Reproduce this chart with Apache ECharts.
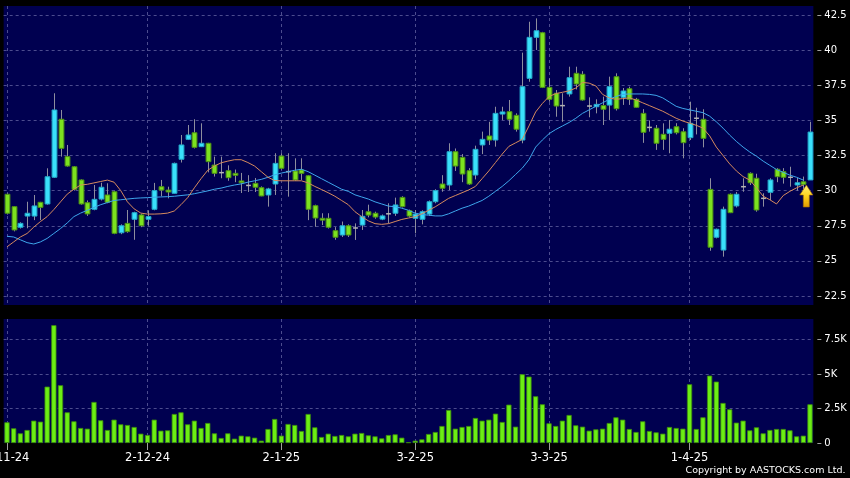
<!DOCTYPE html>
<html><head><meta charset="utf-8">
<script src="https://cdn.jsdelivr.net/npm/echarts@6/dist/echarts.min.js"></script>
<style>html,body{margin:0;padding:0;background:#000;}#c{width:850px;height:478px;}</style>
</head><body><div id="c"></div>
<script>
// ---- data ----
const opens  = [29.74,28.86,27.39,28.19,28.19,29.17,29.05,30.95,35.08,32.42,
  31.70,30.76,29.14,28.67,29.40,29.69,29.92,27.00,27.67,27.96,
  28.27,27.96,28.67,30.28,30.04,29.81,32.23,33.65,34.12,33.13,
  33.37,31.82,31.28,31.42,31.23,30.69,30.37,30.52,30.21,29.69,
  30.47,32.46,31.35,31.40,31.47,31.06,28.93,28.03,28.03,27.15,
  26.84,27.50,27.34,27.55,28.50,28.39,27.97,28.35,28.39,29.52,
  28.57,28.03,27.96,28.33,29.21,30.47,30.40,32.77,32.37,31.42,
  31.11,33.25,33.89,33.60,35.45,35.62,35.36,33.60,37.99,40.91,
  41.24,37.35,36.93,36.05,36.88,38.35,38.28,36.02,35.97,36.05,
  36.09,38.11,36.64,37.25,36.50,35.50,34.50,34.44,34.01,34.08,
  34.55,34.19,33.77,35.15,35.08,30.09,26.68,25.77,29.74,28.91,
  30.28,31.23,30.88,29.45,29.88,31.52,31.35,30.95,30.40,30.63,
  30.76];
const closes = [28.39,27.20,27.67,28.39,28.91,28.81,30.99,35.74,33.01,31.75,
  30.09,29.05,28.34,29.38,30.24,29.17,26.96,27.50,27.08,28.43,
  27.50,28.15,30.00,30.04,29.90,31.94,33.25,33.96,33.08,33.37,
  32.06,31.23,31.28,30.92,31.09,30.56,30.37,30.24,29.62,30.12,
  31.94,31.59,31.35,30.76,31.23,28.67,28.05,27.90,27.39,26.68,
  27.50,26.84,27.34,28.17,28.26,28.12,28.20,28.35,28.98,28.86,
  28.19,28.33,28.50,29.21,30.00,30.17,32.77,31.75,31.18,30.47,
  32.94,33.65,33.60,35.50,35.60,35.08,34.37,37.40,40.91,41.38,
  37.35,36.50,36.02,36.05,38.04,37.59,36.45,36.02,36.14,35.79,
  37.40,35.83,37.09,36.50,35.93,34.15,34.50,33.37,33.65,34.37,
  34.12,33.41,34.79,35.15,33.72,25.97,27.25,28.67,28.43,29.74,
  30.28,30.56,28.62,29.45,30.76,30.99,30.95,30.95,30.56,30.45,
  34.17];
const lows   = [28.30,27.10,27.30,27.32,27.90,27.90,29.00,30.90,32.42,31.70,
  30.00,29.00,28.20,28.60,29.30,29.10,26.90,26.90,27.00,26.50,
  27.40,27.50,28.60,29.60,29.45,29.80,32.00,33.60,33.00,33.10,
  31.30,31.00,30.88,30.70,30.60,29.83,29.90,29.90,29.60,28.86,
  29.69,31.50,29.57,30.70,30.76,27.90,27.43,27.55,27.30,26.50,
  26.70,26.70,26.49,27.20,28.10,28.00,27.90,27.67,28.20,28.80,
  28.10,26.96,27.60,28.20,29.10,29.92,30.04,31.40,30.60,30.40,
  30.80,32.60,33.25,33.13,35.03,34.67,34.20,33.37,37.75,40.01,
  37.30,36.33,35.26,34.90,36.69,37.20,36.40,35.22,35.50,34.67,
  35.03,35.70,36.10,36.10,35.90,33.40,34.20,32.90,32.90,32.66,
  34.00,32.30,33.60,34.00,33.08,25.72,26.60,25.30,28.40,28.80,
  29.92,30.40,28.50,28.86,29.33,30.60,30.50,30.28,30.00,30.10,
  30.76];
const highs  = [29.80,28.90,27.75,29.21,29.69,29.20,31.59,36.93,35.74,33.25,
  31.75,30.80,29.30,30.40,30.56,30.52,30.00,27.60,28.62,28.50,
  28.35,28.60,30.55,30.76,30.28,32.00,33.96,34.67,35.08,34.79,
  33.40,32.42,32.42,31.80,31.50,31.26,31.10,30.90,30.30,30.20,
  32.66,32.66,32.66,32.30,32.30,31.10,29.00,28.39,28.39,27.40,
  27.80,27.60,27.67,28.62,29.00,28.50,28.30,29.10,29.50,29.60,
  28.65,28.62,28.60,29.30,30.10,31.10,33.37,33.00,32.60,31.60,
  33.20,34.20,34.90,35.97,35.97,36.45,35.50,39.82,42.02,42.26,
  41.30,37.99,37.16,36.93,38.82,38.82,38.50,36.64,36.50,36.69,
  38.11,38.35,37.30,37.40,36.60,35.80,35.00,34.67,34.79,35.03,
  34.80,34.44,36.33,35.90,35.79,30.88,27.30,28.86,29.80,29.90,
  30.88,31.30,31.20,29.81,30.88,31.60,31.60,31.70,30.90,31.00,
  34.90];
const volumes = [1504,1066,703,945,1623,1550,4093,8551,4191,2228,
  1575,1090,1041,2980,1648,945,1695,1357,1308,1163,
  678,581,1695,896,920,2107,2228,1357,1623,1090,
  1453,703,363,703,315,533,484,388,170,1017,
  1744,533,1381,1308,872,2107,1139,436,678,509,
  581,484,678,727,557,484,339,581,630,388,
  50,170,266,654,799,1235,2398,1041,1163,1235,
  1817,1623,1695,2131,1526,2785,1187,4990,4820,3392,
  2810,1430,1235,1623,2035,1284,1187,896,993,1041,
  1453,1865,1695,1017,799,1575,872,775,678,1163,
  1090,1041,4264,1017,1865,4893,4457,2907,2447,1478,
  1623,920,1139,703,945,1017,1017,920,484,533,
  2810];
const ma10 = [26.0,26.35,26.7,26.95,27.4,27.8,28.15,28.65,29.2,29.75,
  30.1,30.4,30.45,30.55,30.65,30.75,30.6,30.0,29.2,28.7,
  28.4,28.33,28.33,28.35,28.4,28.55,29.0,29.5,30.2,30.85,
  31.45,31.75,31.98,32.1,32.2,32.2,32.0,31.75,31.35,30.95,
  30.72,30.7,30.7,30.7,30.7,30.55,30.3,30.08,29.85,29.6,
  29.3,29.0,28.5,28.15,27.85,27.65,27.6,27.65,27.8,27.95,
  28.05,28.15,28.35,28.6,28.85,29.15,29.45,29.65,29.85,30.05,
  30.3,30.85,31.4,32.0,32.6,33.15,33.4,33.65,34.6,35.6,
  36.2,36.7,36.9,37.0,37.1,37.3,37.7,37.65,37.45,36.85,
  36.6,36.5,36.55,36.6,36.45,36.25,36.05,35.85,35.65,35.4,
  35.15,34.95,34.8,34.65,34.45,33.9,33.1,32.5,31.9,31.4,
  31.0,30.75,30.2,29.6,29.35,29.05,29.65,29.95,30.2,30.4,
  null];
const ma20 = [26.75,26.7,26.5,26.3,26.2,26.35,26.6,26.95,27.3,27.7,
  28.15,28.4,28.6,28.8,29.0,29.15,29.3,29.35,29.4,29.45,
  29.48,29.5,29.53,29.55,29.57,29.6,29.65,29.7,29.78,29.88,
  29.98,30.1,30.18,30.3,30.4,30.48,30.6,30.7,30.8,30.95,
  31.12,31.25,31.35,31.45,31.52,31.35,31.1,30.85,30.6,30.35,
  30.1,29.95,29.7,29.55,29.4,29.2,29.05,28.9,28.85,28.75,
  28.6,28.4,28.3,28.25,28.2,28.2,28.35,28.55,28.75,28.9,
  29.1,29.3,29.6,29.95,30.3,30.7,31.15,31.6,32.2,33.1,
  33.6,34.05,34.35,34.6,34.85,35.15,35.5,35.75,36.0,36.25,
  36.5,36.7,36.85,36.88,36.88,36.88,36.85,36.78,36.6,36.3,
  36.0,35.85,35.75,35.65,35.55,35.3,34.9,34.45,33.95,33.5,
  33.1,32.75,32.45,32.1,31.8,31.5,31.3,31.1,30.95,30.75,
  null];
const tickIndex  = [0, 21, 41, 61, 81, 102];
const tickLabels = ['1-11-24', '2-12-24', '2-1-25', '3-2-25', '3-3-25', '1-4-25'];
const volTicks = [0, 2500, 5000, 7500];
const categories = closes.map((_, i) => String(i));
const arrowAt = 119;

// ---- chart ----
const GRID = '#4c4c8e';
const NAVY = '#000050';
const candleData = categories.map((c, i) => [i, opens[i], closes[i], lows[i], highs[i]]);
const isTick = (idx) => tickIndex.indexOf(idx) >= 0;

function renderCandle(params, api) {
  const i = api.value(0), o = api.value(1), c = api.value(2), l = api.value(3), h = api.value(4);
  const pTop = api.coord([i, Math.max(o, c)]);
  const pBot = api.coord([i, Math.min(o, c)]);
  const pHi = api.coord([i, h]);
  const pLo = api.coord([i, l]);
  const band = api.size([1, 0])[0];
  const w = Math.max(3, band * 0.72);
  const x = Math.round(pTop[0]) + 0.5;
  const children = [{
    type: 'line', shape: {x1: x, y1: pHi[1], x2: x, y2: pLo[1]},
    style: {stroke: '#8e8e9e', lineWidth: 1}
  }];
  if (o === c) {
    children.push({type: 'line', shape: {x1: x - w / 2, y1: pTop[1], x2: x + w / 2, y2: pTop[1]},
      style: {stroke: '#b4b4b4', lineWidth: 1.5}});
  } else {
    const up = c > o;
    children.push({type: 'rect',
      shape: {x: x - w / 2, y: pTop[1], width: w, height: Math.max(1.5, pBot[1] - pTop[1])},
      style: {fill: up ? '#3ae0fb' : '#7ce21f', stroke: up ? '#23a8c8' : '#4c9014', lineWidth: 1}});
  }
  return {type: 'group', children};
}

const chart = echarts.init(document.getElementById('c'), null, {renderer: 'canvas'});
const dashed = {color: GRID, type: [3, 3], width: 1};
chart.setOption({
  backgroundColor: '#000000',
  animation: false,
  grid: [
    {left: 3.65, top: 15, width: 809.7, height: 281, show: false, outerBoundsMode: 'none'},
    {left: 3.65, top: 319, width: 809.7, height: 124, show: true, backgroundColor: NAVY, borderWidth: 0, outerBoundsMode: 'none'},
    {left: 3.65, top: 6, width: 809.7, height: 299, show: true, backgroundColor: NAVY, borderWidth: 0, outerBoundsMode: 'none'}
  ],
  xAxis: [
    {gridIndex: 0, type: 'category', data: categories, axisLine: {show: false}, axisTick: {show: false},
     axisLabel: {show: false}, splitLine: {show: false}},
    {gridIndex: 1, type: 'category', data: categories, axisLine: {show: false},
     axisTick: {show: true, alignWithLabel: true, interval: isTick, length: 7, lineStyle: {color: '#a0a0a0'}},
     axisLabel: {show: true, interval: isTick, formatter: (v, i) => tickLabels[tickIndex.indexOf(i)] || '',
       color: '#ffffff', fontSize: 11.5, fontFamily: 'DejaVu Sans', margin: 9, padding: [0, 0, 0, 0]},
     splitLine: {show: true, interval: isTick, alignWithLabel: true, lineStyle: dashed}},
    {gridIndex: 2, type: 'category', data: categories, axisLine: {show: false}, axisTick: {show: false},
     axisLabel: {show: false},
     splitLine: {show: true, interval: isTick, alignWithLabel: true, lineStyle: dashed}}
  ],
  yAxis: [
    {gridIndex: 0, type: 'value', position: 'right', min: 22.5, max: 42.5, interval: 2.5, offset: 4,
     axisLine: {show: false}, axisTick: {show: true, length: 4, lineStyle: {color: '#a0a0a0'}},
     axisLabel: {color: '#ffffff', fontSize: 10, fontFamily: 'DejaVu Sans', margin: 7},
     splitLine: {show: true, lineStyle: dashed}},
    {gridIndex: 1, type: 'value', position: 'right', min: 0, max: 9000, interval: 2500, offset: 4,
     axisLine: {show: false},
     axisTick: {show: true, length: 4, lineStyle: {color: '#a0a0a0'}, customValues: volTicks},
     axisLabel: {color: '#ffffff', fontSize: 10, fontFamily: 'DejaVu Sans', margin: 7,
       customValues: volTicks,
       formatter: v => v === 0 ? '0' : (v / 1000) + 'K'},
     splitLine: {show: true, lineStyle: {color: ['rgba(0,0,0,0)', GRID, GRID, GRID, 'rgba(0,0,0,0)'], type: [3, 3], width: 1}}},
    {gridIndex: 2, type: 'value', show: false, splitLine: {show: false}}
  ],
  series: [
    {type: 'custom', name: 'K', xAxisIndex: 0, yAxisIndex: 0, renderItem: renderCandle,
     data: candleData, encode: {x: 0, y: [1, 2, 3, 4]}, clip: true, z: 3, silent: true},
    {type: 'line', name: 'MA20', xAxisIndex: 0, yAxisIndex: 0, data: ma20, showSymbol: false, symbol: 'none',
     lineStyle: {color: '#3ea6ec', width: 1}, z: 4, silent: true},
    {type: 'line', name: 'MA10', xAxisIndex: 0, yAxisIndex: 0, data: ma10, showSymbol: false, symbol: 'none',
     lineStyle: {color: '#d68a5e', width: 1}, z: 5, silent: true,
     markPoint: {
       silent: true, animation: false,
       symbol: 'path://M6.5,0 L13,10 L9.5,10 L9.5,22 L3.5,22 L3.5,10 L0,10 Z',
       symbolSize: [13, 22], symbolKeepAspect: false, symbolOffset: [3, 11],
       label: {show: false},
       itemStyle: {color: new echarts.graphic.LinearGradient(0, 0, 0, 1, [
         {offset: 0, color: '#fff27a'}, {offset: 0.5, color: '#ffd21c'}, {offset: 1, color: '#e09a00'}]),
         borderColor: '#a86e00', borderWidth: 0.6},
       data: [{coord: [categories[arrowAt], ma10[arrowAt]]}]
     }},
    {type: 'bar', name: 'Vol', xAxisIndex: 1, yAxisIndex: 1, data: volumes, barWidth: '78%',
     itemStyle: {color: '#6cee14', borderColor: '#3c8c0c', borderWidth: 0.8}, silent: true}
  ],
  graphic: [
    {type: 'text', x: 845.5, y: 471, silent: true,
     style: {text: 'Copyright by AASTOCKS.com Ltd.', fill: '#ffffff', font: '9.5px "DejaVu Sans"',
       textAlign: 'right', textVerticalAlign: 'middle', align: 'right', verticalAlign: 'middle'}}
  ]
});
</script>
</body></html>
